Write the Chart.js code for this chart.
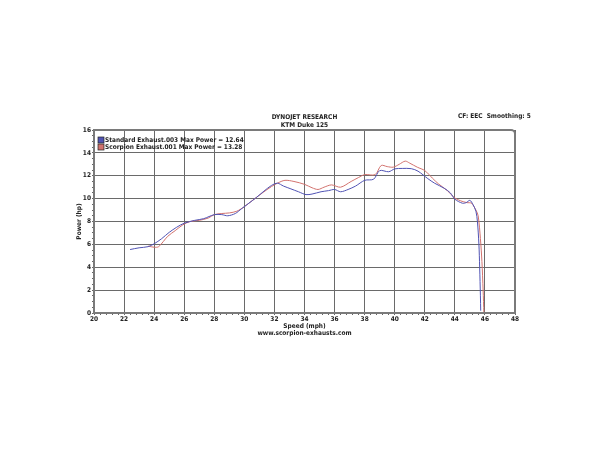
<!DOCTYPE html>
<html>
<head>
<meta charset="utf-8">
<title>Dynojet - KTM Duke 125</title>
<script src="https://cdn.jsdelivr.net/npm/chart.js@4.4.0/dist/chart.umd.min.js"></script>
<style>
  body { margin: 0; background: #fff; }
  canvas { display: block; }
</style>
</head>
<body>
<canvas id="dynoChart" width="600" height="450"></canvas>
<script>
// data
const standardSpeed = [22.4, 23.0, 23.6, 24.0, 24.5, 25.0, 25.5, 26.0, 26.7, 27.3, 28.0, 28.5, 28.9, 29.4, 29.8, 30.3, 30.8, 31.3, 31.8, 32.2, 32.6, 33.1, 33.6, 34.1, 34.5, 35.1, 35.6, 36.0, 36.4, 36.9, 37.4, 38.0, 38.6, 39.0, 39.6, 40.0, 40.5, 41.1, 41.55, 42.2, 42.65, 43.3, 43.7, 44.0, 44.5, 44.75, 45.0, 45.2, 45.4, 45.5, 45.6, 45.65, 45.7, 45.72];
const standardPower = [5.55, 5.7, 5.8, 6.05, 6.5, 7.05, 7.5, 7.85, 8.1, 8.25, 8.6, 8.6, 8.5, 8.7, 9.1, 9.6, 10.1, 10.65, 11.15, 11.35, 11.1, 10.85, 10.6, 10.35, 10.4, 10.6, 10.7, 10.8, 10.6, 10.8, 11.1, 11.6, 11.7, 12.45, 12.35, 12.6, 12.64, 12.62, 12.4, 11.75, 11.35, 10.9, 10.5, 9.95, 9.6, 9.65, 9.85, 9.5, 8.9, 8.0, 6.0, 4.0, 1.5, 0.2];

const scorpionSpeed = [23.6, 24.0, 24.3, 24.9, 25.4, 25.9, 26.4, 27.0, 27.6, 28.0, 28.5, 29.0, 29.5, 30.0, 30.5, 31.2, 31.8, 32.2, 32.7, 33.3, 34.0, 34.5, 34.9, 35.3, 35.8, 36.4, 37.1, 37.6, 38.0, 38.7, 39.1, 39.5, 39.9, 40.3, 40.7, 41.0, 41.5, 42.0, 42.5, 42.9, 43.5, 44.0, 44.4, 44.8, 45.1, 45.4, 45.55, 45.7, 45.8, 45.88, 45.93];
const scorpionPower = [5.85, 5.75, 5.8, 6.7, 7.2, 7.7, 8.0, 8.1, 8.3, 8.6, 8.7, 8.75, 8.9, 9.3, 9.8, 10.5, 11.05, 11.35, 11.6, 11.5, 11.25, 10.95, 10.8, 11.0, 11.2, 11.0, 11.5, 11.85, 12.1, 12.1, 12.9, 12.8, 12.75, 13.0, 13.28, 13.1, 12.75, 12.45, 11.8, 11.3, 10.7, 10.05, 9.8, 9.65, 9.6, 9.0, 8.5, 6.5, 4.5, 2.0, 0];

const seriesLabels = ['Standard Exhaust.003 Max Power = 12.64', 'Scorpion Exhaust.001 Max Power = 13.28'];
const seriesColors = ['#5053b4', '#d2726e'];

const toPoints = (xs, ys) => xs.map((x, i) => ({ x: x, y: ys[i] }));

const isMajor = (v) => Math.abs(v - Math.round(v)) < 1e-6 && Math.round(v) % 2 === 0;
const gridColor = (ctx) => isMajor(ctx.tick.value) ? '#6a6a6a' : 'rgba(0,0,0,0)';

const smallFont = { family: 'DejaVu Sans Condensed, DejaVu Sans', size: 6.5, weight: 'bold' };

// frame, titles, legend and footer
const sheetPlugin = {
    id: 'sheet',
    afterDatasetsDraw(chart) {
        const { ctx, chartArea: a } = chart;
        ctx.save();
        ctx.strokeStyle = '#7a7a7a';
        ctx.lineWidth = 2;
        ctx.beginPath();
        ctx.roundRect(a.left, a.top, a.right - a.left, a.bottom - a.top, [0, 4, 0, 0]);
        ctx.stroke();

        // legend inside the plot
        ctx.font = 'bold 6.5px "DejaVu Sans Condensed", "DejaVu Sans"';
        ctx.textBaseline = 'middle';
        ctx.textAlign = 'left';
        seriesLabels.forEach((label, i) => {
            const y = a.top + 10 + i * 7;
            ctx.fillStyle = seriesColors[i];
            ctx.fillRect(a.left + 4, y - 3, 6, 6);
            ctx.strokeStyle = '#222';
            ctx.lineWidth = 0.7;
            ctx.strokeRect(a.left + 4, y - 3, 6, 6);
            ctx.fillStyle = '#222';
            ctx.fillText(label, a.left + 11, y);
        });
        ctx.restore();
    },
    afterDraw(chart) {
        const { ctx, chartArea: a } = chart;
        const cx = (a.left + a.right) / 2;
        ctx.save();
        ctx.fillStyle = '#222';
        ctx.font = 'bold 6.5px "DejaVu Sans Condensed", "DejaVu Sans"';
        ctx.textBaseline = 'middle';
        ctx.textAlign = 'center';
        ctx.fillText('DYNOJET RESEARCH', cx, a.top - 13);
        ctx.fillText('KTM Duke 125', cx, a.top - 5);
        ctx.fillText('www.scorpion-exhausts.com', cx, a.bottom + 20);
        ctx.textAlign = 'left';
        ctx.fillText('CF: EEC  Smoothing: 5', a.right - 57, a.top - 14);
        ctx.restore();
    }
};

const chart = new Chart(document.getElementById('dynoChart'), {
    type: 'line',
    data: {
        datasets: [{
            label: seriesLabels[0],
            data: toPoints(standardSpeed, standardPower),
            borderColor: seriesColors[0],
            borderWidth: 1,
            pointRadius: 0,
            tension: 0.3
        }, {
            label: seriesLabels[1],
            data: toPoints(scorpionSpeed, scorpionPower),
            borderColor: seriesColors[1],
            borderWidth: 1,
            pointRadius: 0,
            tension: 0.3
        }]
    },
    options: {
        responsive: false,
        animation: false,
        layout: { padding: { left: 75, right: 85, top: 130, bottom: 120 } },
        plugins: {
            legend: { display: false },
            tooltip: { enabled: false }
        },
        scales: {
            x: {
                type: 'linear',
                min: 20,
                max: 48,
                afterBuildTicks: (s) => {
                    const t = [];
                    for (let i = 0; i <= 70; i++) t.push({ value: 20 + i * 0.4 });
                    s.ticks = t;
                },
                afterFit: (s) => { s.height = 17; },
                ticks: {
                    autoSkip: false,
                    maxRotation: 0,
                    padding: 0,
                    color: '#222',
                    font: smallFont,
                    callback: (v) => isMajor(v) ? String(Math.round(v)) : ''
                },
                grid: { color: gridColor, borderDash: [1, 2], tickColor: '#666', tickLength: 2 },
                border: { display: false },
                title: { display: true, text: 'Speed (mph)', color: '#222', font: smallFont, padding: 0 }
            },
            y: {
                min: 0,
                max: 16,
                afterBuildTicks: (s) => {
                    const t = [];
                    for (let i = 0; i <= 32; i++) t.push({ value: i * 0.5 });
                    s.ticks = t;
                },
                afterFit: (s) => { s.width = 19; },
                ticks: {
                    autoSkip: false,
                    padding: 1,
                    color: '#222',
                    font: smallFont,
                    callback: (v) => isMajor(v) ? String(Math.round(v)) : ''
                },
                grid: { color: gridColor, borderDash: [1, 2], tickColor: '#666', tickLength: 2 },
                border: { display: false },
                title: { display: true, text: 'Power (hp)', color: '#222', font: smallFont, padding: 0 }
            }
        }
    },
    plugins: [sheetPlugin]
});
</script>
</body>
</html>
